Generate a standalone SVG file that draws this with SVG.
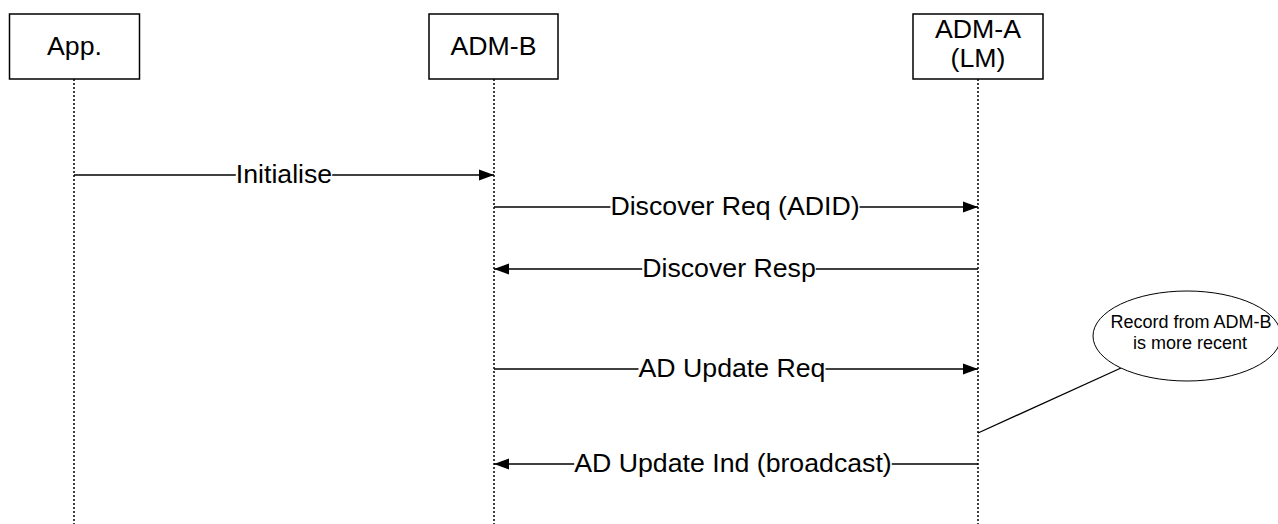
<svg xmlns="http://www.w3.org/2000/svg" width="1278" height="524" viewBox="0 0 1278 524">
<style>
.box{fill:#fff;stroke:#000;stroke-width:1.5}
.life{stroke:#000;stroke-width:1.5;stroke-dasharray:2,2;fill:none}
.msg{stroke:#000;stroke-width:1.3;fill:none}
.lbl{font-family:"Liberation Sans",Arial,sans-serif;font-size:26.7px;fill:#000;text-anchor:middle}
.note{font-family:"Liberation Sans",Arial,sans-serif;font-size:18px;fill:#000;text-anchor:middle}
</style>
<defs>
<marker id="ah" markerUnits="userSpaceOnUse" markerWidth="16" markerHeight="12" refX="15" refY="6" orient="auto">
<path d="M0,0.5 L15,6 L0,11.5 Z" fill="#000"/>
</marker>
</defs>
<rect width="1278" height="524" fill="#fff"/>
<g id="lifelines">
<line class="life" x1="74" y1="79" x2="74" y2="524"/>
<line class="life" x1="494" y1="79" x2="494" y2="524"/>
<line class="life" x1="978" y1="79" x2="978" y2="524"/>
</g>
<g id="node-app">
<rect class="box" x="9.5" y="14" width="130" height="65"/>
<text class="lbl" x="74.5" y="55">App.</text>
</g>
<g id="node-admb">
<rect class="box" x="429" y="14" width="129" height="65"/>
<text class="lbl" x="493.5" y="55">ADM-B</text>
</g>
<g id="node-adma">
<rect class="box" x="913" y="14" width="130" height="65"/>
<text class="lbl" x="978" y="38">ADM-A</text>
<text class="lbl" x="978" y="67">(LM)</text>
</g>
<g id="connectors">
<line class="msg" x1="74" y1="175" x2="235.8" y2="175"/>
<line class="msg" x1="332.2" y1="175" x2="494" y2="175" marker-end="url(#ah)"/>
<line class="msg" x1="494" y1="207" x2="610.4" y2="207"/>
<line class="msg" x1="859.6" y1="207" x2="978" y2="207" marker-end="url(#ah)"/>
<line class="msg" x1="978" y1="269" x2="815.8" y2="269"/>
<line class="msg" x1="642.2" y1="269" x2="494" y2="269" marker-end="url(#ah)"/>
<line class="msg" x1="494" y1="369" x2="638.5" y2="369"/>
<line class="msg" x1="825.5" y1="369" x2="978" y2="369" marker-end="url(#ah)"/>
<line class="msg" x1="978" y1="464" x2="891.8" y2="464"/>
<line class="msg" x1="574.2" y1="464" x2="494" y2="464" marker-end="url(#ah)"/>
<line class="msg" x1="978" y1="433" x2="1121" y2="368" stroke-width="1"/>
</g>
<g id="labels">
<text class="lbl" x="284" y="183">Initialise</text>
<text class="lbl" x="735" y="215">Discover Req (ADID)</text>
<text class="lbl" x="729" y="277">Discover Resp</text>
<text class="lbl" x="732" y="377">AD Update Req</text>
<text class="lbl" x="733" y="472">AD Update Ind (broadcast)</text>
</g>
<g id="node-note">
<ellipse cx="1187" cy="336" rx="94" ry="45" fill="#fff" stroke="#000" stroke-width="1"/>
<text class="note" x="1191" y="328">Record from ADM-B</text>
<text class="note" x="1190" y="349">is more recent</text>
</g>
</svg>
